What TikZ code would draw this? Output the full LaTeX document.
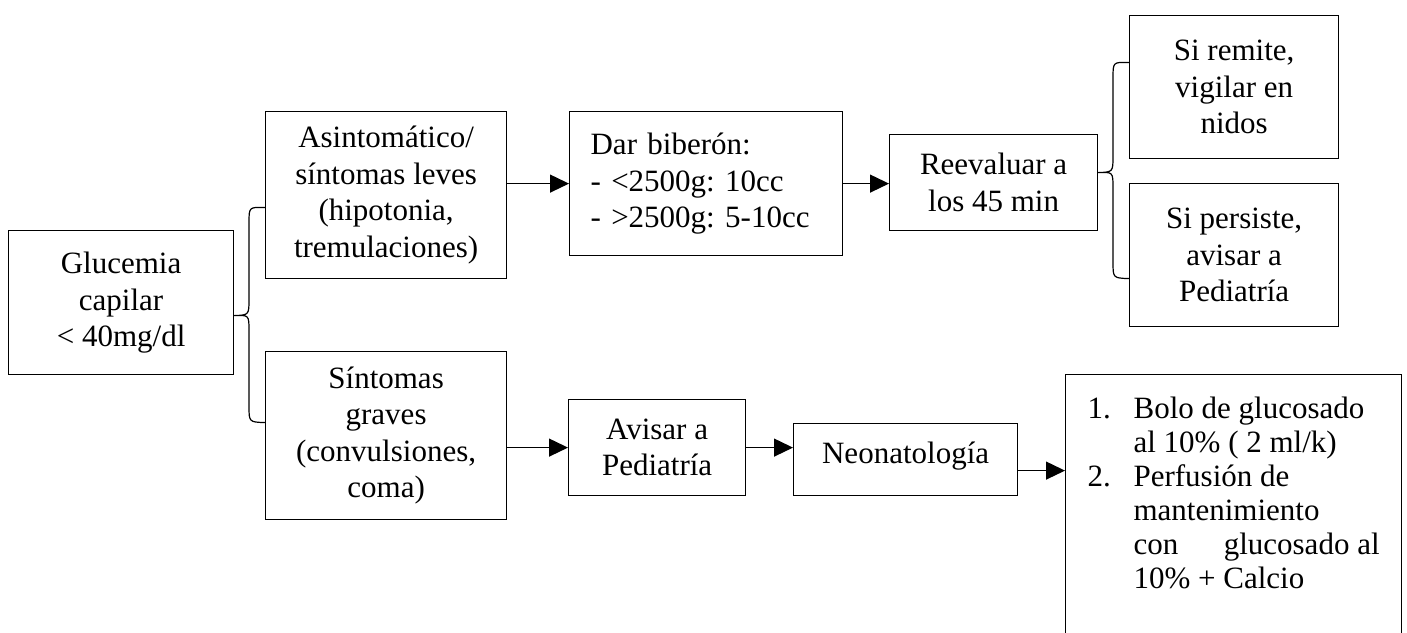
\documentclass[tikz,border=0pt]{standalone}
\usepackage{fontspec}
\setmainfont{Liberation Serif}
\usetikzlibrary{arrows.meta,calc}
\frenchspacing
\begin{document}
\frenchspacing
\begin{tikzpicture}[x=1pt,y=-1pt,
  box/.style={draw, line width=1.2pt, inner sep=0pt, anchor=north west, align=center,
    font=\fontsize{31}{36.5}\selectfont},
  arr/.style={line width=1.2pt, -{Triangle[length=19pt,width=18pt]}},
  brc/.style={line width=1.2pt}]
\useasboundingbox (0,0) rectangle (1407,632);
% nodes
\node[box, minimum width=225pt, minimum height=144pt] (gluc) at (8,230) {Glucemia\\capilar\\< 40mg/dl};
\node[box, minimum width=241pt, minimum height=167pt] (asin) at (265,111) {Asintomático/\\síntomas leves\\(hipotonia,\\tremulaciones)};
\node[box, minimum width=241pt, minimum height=168pt] (sint) at (265,351) {Síntomas\\graves\\(convulsiones,\\coma)};
\node[box, align=left, inner xsep=21pt, text width=231pt, minimum height=144pt] (dar) at (569,111) {Dar biberón:\\- <2500g: 10cc\\- >2500g: 5-10cc};
\node[box, minimum width=208pt, minimum height=96pt] (reev) at (889,134) {Reevaluar a\\los 45 min};
\node[box, minimum width=209pt, minimum height=143pt] (rem) at (1129,15) {Si remite,\\vigilar en\\nidos};
\node[box, minimum width=209pt, minimum height=143pt] (per) at (1129,183) {Si persiste,\\avisar a\\Pediatría};
\node[box, minimum width=177pt, minimum height=96pt] (avis) at (568,399) {Avisar a\\Pediatría};
\node[box, minimum width=224pt, minimum height=72pt] (neo) at (793,423) {Neonatología\rule[-14pt]{0pt}{14pt}};
\node[box, minimum width=336pt, minimum height=270pt] (fin) at (1065,374) {\parbox[c][270pt][t]{336pt}{\fontsize{31}{34}\selectfont\raggedright
\hspace*{22pt}\makebox[46pt][l]{1.}\rule{0pt}{44pt}Bolo de glucosado\\
\hspace*{68pt}al 10\% ( 2 ml/k)\\
\hspace*{22pt}\makebox[46pt][l]{2.}Perfusión de\\
\hspace*{68pt}mantenimiento\\
\hspace*{68pt}\makebox[246pt][s]{con\hfill glucosado al}\\
\hspace*{68pt}10\% + Calcio}};
% braces
\coordinate (b1tip) at ($(gluc.east)+(0,13)$);
\coordinate (b1top) at ($(asin.west)+(0,12.5)$);
\coordinate (b1bot) at ($(sint.west)+(0,-13)$);
\draw[brc] (b1top) .. controls (249,207) .. (249,223) -- (249,299) .. controls (249,315) .. (b1tip)
  .. controls (249,315) .. (249,331) -- (249,406) .. controls (249,422) .. (b1bot);
\coordinate (b2tip) at ($(reev.east)+(0,-10)$);
\coordinate (b2top) at ($(rem.west)+(0,-24.5)$);
\coordinate (b2bot) at ($(per.west)+(0,23.5)$);
\draw[brc] (b2top) .. controls (1113,62) .. (1113,78) -- (1113,156) .. controls (1113,172) .. (b2tip)
  .. controls (1113,172) .. (1113,188) -- (1113,262) .. controls (1113,278) .. (b2bot);
% arrows
\draw[arr] (asin.east |- dar.west) -- (dar.west);
\draw[arr] (dar.east) -- (dar.east -| reev.west);
\draw[arr] (sint.east |- avis.west) -- (avis.west);
\draw[arr] (avis.east) -- (avis.east -| neo.west);
\coordinate (neoout) at ($(neo.east)+(0,11)$);
\draw[arr] (neoout) -- (neoout -| fin.west);
\end{tikzpicture}
\end{document}
